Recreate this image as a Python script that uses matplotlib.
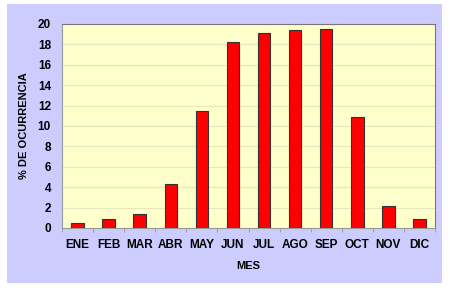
import matplotlib
matplotlib.use("Agg")
import matplotlib.pyplot as plt
from matplotlib.patches import Rectangle

meses = ["ENE", "FEB", "MAR", "ABR", "MAY", "JUN", "JUL", "AGO", "SEP", "OCT", "NOV", "DIC"]
ocurrencia = [0.5, 0.9, 1.4, 4.3, 11.5, 18.2, 19.1, 19.4, 19.5, 10.9, 2.2, 0.9]
y_ticks = [0, 2, 4, 6, 8, 10, 12, 14, 16, 18, 20]

plt.rcParams["font.family"] = ["Liberation Sans", "DejaVu Sans"]
plt.rcParams["font.weight"] = "bold"

fig = plt.figure(figsize=(4.5, 2.88), dpi=100)
W, H = 450, 288

# lavender panel behind the chart
fig.patches.append(Rectangle((7 / W, 1 - 283 / H), 435 / W, 279 / H,
                             transform=fig.transFigure, facecolor="#CCCCFF",
                             edgecolor="none", zorder=-10))

ax = fig.add_axes([62 / W, 1 - 228 / H, 373 / W, 204 / H])
ax.set_facecolor("#FFFFCC")

x = range(len(meses))
ax.bar(x, ocurrencia, width=0.4, color="#FF0000", edgecolor="#333333",
       linewidth=0.8, zorder=3)

ax.set_xlim(-0.5, len(meses) - 0.5)
ax.set_ylim(0, 20)
ax.set_yticks(y_ticks)
ax.yaxis.grid(True, color="#E8E8C0", linewidth=0.9, zorder=0)

ax.set_xticks(x)
ax.set_xticklabels(meses)
ax.set_xticks([i - 0.5 for i in range(len(meses) + 1)], minor=True)
ax.tick_params(axis="x", which="major", length=0, pad=8, labelsize=8.5)
ax.tick_params(axis="x", which="minor", length=3, color="#999999")
ax.tick_params(axis="y", length=0, pad=8, labelsize=8.5)
for lab in ax.get_xticklabels() + ax.get_yticklabels():
    lab.set_fontweight("bold")

for side in ["left", "bottom"]:
    ax.spines[side].set_color("#999999")
for side in ["top", "right"]:
    ax.spines[side].set_color("#777777")

ax.set_xlabel("MES", fontsize=8, fontweight="bold", labelpad=7)
ax.set_ylabel("% DE OCURRENCIA", fontsize=8, fontweight="bold", labelpad=6)

fig.savefig("out.png", dpi=100, facecolor="white")
